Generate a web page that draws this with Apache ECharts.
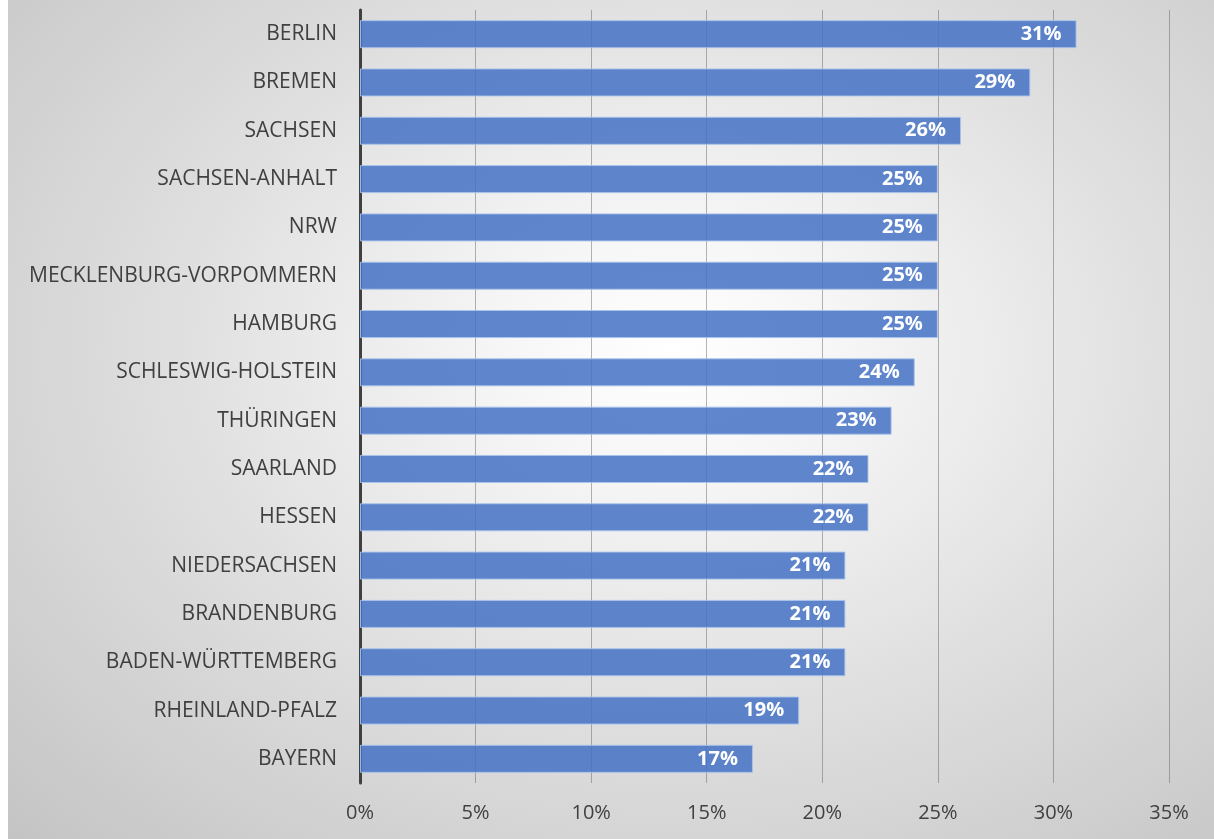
<!DOCTYPE html>
<html>
<head>
<meta charset="utf-8">
<style>
  html, body { margin: 0; padding: 0; width: 1214px; height: 839px; background: #ffffff; overflow: hidden; }
  #bg { position: absolute; left: 8px; top: 0; width: 1206px; height: 839px;
        background: radial-gradient(ellipse farthest-corner at 55% 42%, #ffffff 0%, #f6f6f6 18%, #dedede 55%, #c4c4c4 100%); }
  #chart { position: absolute; left: 0; top: 0; width: 1214px; height: 839px; }
</style>
<script src="https://cdn.jsdelivr.net/npm/echarts@6/dist/echarts.min.js"></script>
</head>
<body>
<div id="bg"></div>
<div id="chart"></div>
<script>
// Share per federal state, top to bottom
const states = [
  'BERLIN', 'BREMEN', 'SACHSEN', 'SACHSEN-ANHALT', 'NRW',
  'MECKLENBURG-VORPOMMERN', 'HAMBURG', 'SCHLESWIG-HOLSTEIN', 'THÜRINGEN',
  'SAARLAND', 'HESSEN', 'NIEDERSACHSEN', 'BRANDENBURG',
  'BADEN-WÜRTTEMBERG', 'RHEINLAND-PFALZ', 'BAYERN'
];
const shares = [31, 29, 26, 25, 25, 25, 25, 24, 23, 22, 22, 21, 21, 21, 19, 17];
const axisTicks = [0, 5, 10, 15, 20, 25, 30, 35];

const font = '"Open Sans", "Liberation Sans", sans-serif';
const chart = echarts.init(document.getElementById('chart'), null, { renderer: 'canvas' });

chart.setOption({
  backgroundColor: 'transparent',
  animation: false,
  grid: { left: 360, right: 45, top: 10, bottom: 56, containLabel: false },
  xAxis: {
    type: 'value',
    min: axisTicks[0],
    max: axisTicks[axisTicks.length - 1],
    interval: axisTicks[1] - axisTicks[0],
    axisLine: { show: false },
    axisTick: { show: false },
    splitLine: { show: true, lineStyle: { color: 'rgba(90,90,90,0.45)', width: 1 } },
    axisLabel: {
      formatter: v => v + '%',
      color: '#404040', fontSize: 20, fontFamily: font, margin: 20
    }
  },
  yAxis: {
    type: 'category',
    data: states,
    inverse: true,
    axisLine: { show: true, lineStyle: { color: '#404040', width: 3 } },
    axisTick: { show: false },
    axisLabel: { color: '#404040', fontSize: 21, fontFamily: font, margin: 23 }
  },
  series: [{
    type: 'bar',
    data: shares,
    barCategoryGap: '42%',
    itemStyle: {
      color: 'rgba(68,114,196,0.85)',
      borderColor: 'rgba(170,195,235,0.9)',
      borderWidth: 1
    },
    label: {
      show: true,
      position: 'insideRight',
      distance: 15,
      formatter: p => p.value + '%',
      color: '#ffffff', fontWeight: 'bold', fontSize: 20, fontFamily: font
    }
  }]
});
</script>
</body>
</html>
